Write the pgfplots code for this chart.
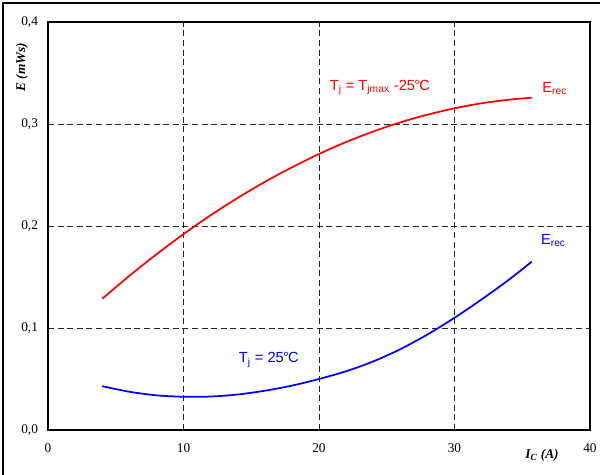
\documentclass[border=0pt]{standalone}
\usepackage{fontspec}
\setmainfont{Liberation Serif}
\newfontfamily\labfont{Liberation Sans}
\usepackage{pgfplots}
\pgfplotsset{compat=1.18}

\pgfplotstableread{
x     y
4     0.1286
6     0.1511
8     0.1722
10    0.1920
12    0.2105
14    0.2275
16    0.2432
18    0.2575
20    0.2706
22    0.2823
24    0.2926
26    0.3016
28    0.3091
30    0.3154
32    0.3203
34    0.3238
35.7  0.3258
}\hotdata

\pgfplotstableread{
x     y
4     0.0430
6     0.0375
8     0.0340
10    0.0326
12    0.0328
14    0.0348
16    0.0385
18    0.0435
20    0.0500
22    0.0576
24    0.0672
26    0.0792
28    0.0936
30    0.1100
32    0.1280
34    0.1472
35.7  0.1650
}\colddata

\begin{document}
\begin{tikzpicture}
\useasboundingbox (0,0) rectangle (450pt,356.25pt);
% outer frame
\draw[line width=0.8pt] (2.25pt,-10pt) -- (2.25pt,354pt) -- (470pt,354pt);
\begin{axis}[
  scale only axis,
  width=406.5pt, height=306pt,
  at={(36pt,33.75pt)}, anchor=south west,
  xmin=0, xmax=40, ymin=0, ymax=0.4,
  xtick={0,10,20,30,40},
  ytick={0,0.1,0.2,0.3,0.4},
  major tick length=0pt,
  axis line style={line width=1pt},
  grid=major,
  major grid style={black!85, line width=0.7pt, dash pattern=on 4.5pt off 2.7pt},
  /pgf/number format/assume math mode=true,
  xticklabel style={font=\fontsize{10}{10}\selectfont, yshift=-7pt},
  yticklabel style={font=\fontsize{10}{10}\selectfont, xshift=-4pt,
    /pgf/number format/.cd, fixed, fixed zerofill, precision=1, use comma},
  clip=false,
]
\addplot[red, line width=1.3pt, smooth] table[x=x,y=y] {\hotdata};
\addplot[blue, line width=1.3pt, smooth] table[x=x,y=y] {\colddata};

\node[red, font=\labfont\fontsize{11}{11}\selectfont] at (axis cs:24.5,0.336)
  {T\textsubscript{j} = T\textsubscript{jmax} -25\kern-0.05em°\kern-0.05emC};
\node[red, font=\labfont\fontsize{11}{11}\selectfont] at (axis cs:37.4,0.335)
  {E\textsubscript{rec}};
\node[blue, font=\labfont\fontsize{11}{11}\selectfont] at (axis cs:37.3,0.186)
  {E\textsubscript{rec}};
\node[blue, font=\labfont\fontsize{11}{11}\selectfont] at (axis cs:16.3,0.0686)
  {T\textsubscript{j} = 25\kern-0.05em°\kern-0.05emC};
\end{axis}
% axis titles
\node[rotate=90, font=\fontsize{10}{10}\selectfont\bfseries\itshape] at (16.5pt,306pt) {E (mWs)};
\node[font=\fontsize{10}{10}\selectfont\bfseries\itshape] at (406.5pt,15pt) {I\textsubscript{C} (A)};
\end{tikzpicture}
\end{document}
